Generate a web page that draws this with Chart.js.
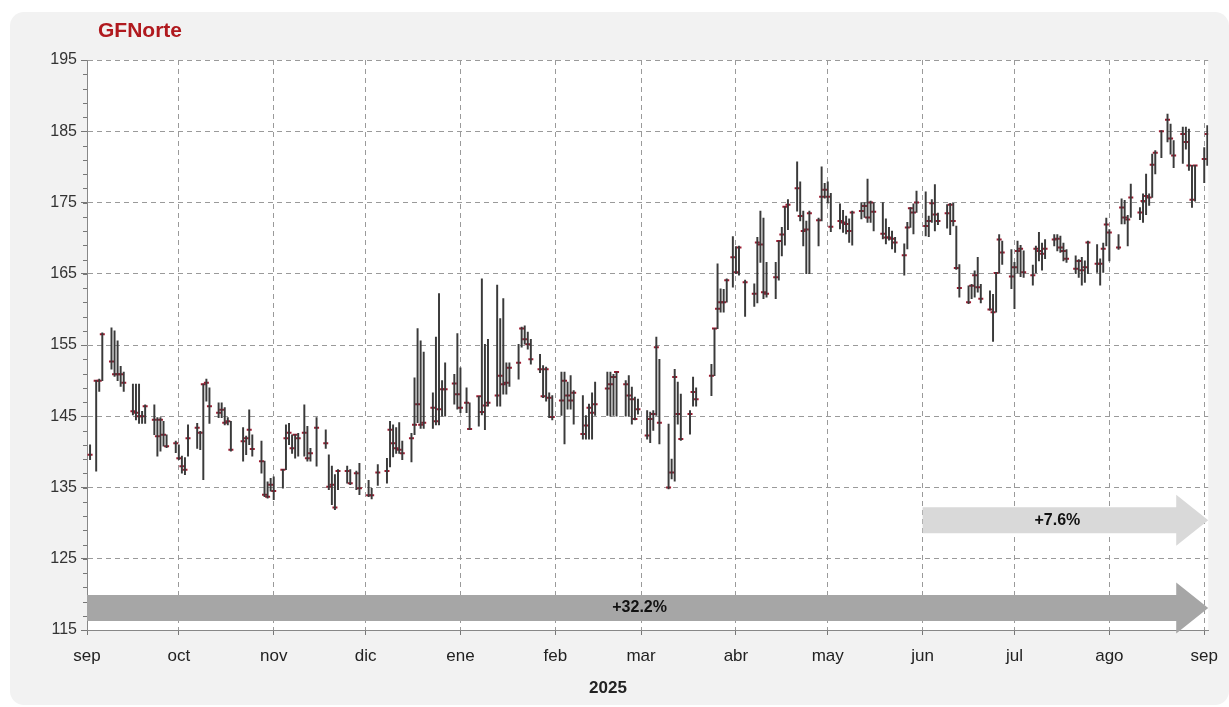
<!DOCTYPE html>
<html>
<head>
<meta charset="utf-8">
<script src="https://cdn.jsdelivr.net/npm/chart.js@4/dist/chart.umd.min.js"></script>
<style>
  html, body { margin: 0; padding: 0; background: #fff; overflow: hidden; }
  #panel { position: absolute; left: 10px; top: 12px; width: 1219px; height: 693px; background: #f2f2f2; border-radius: 14px; }
  #chart { position: absolute; left: 0; top: 0; display: block; }
</style>
</head>
<body>
<div id="panel"></div>
<canvas id="chart" width="1229" height="707"></canvas>
<script>
// GFNorte daily high / low / close, Sep 2024 - Sep 2025
// x = days since 1 Sep 2024
const days = [
  1,3,4,5,8,9,10,11,12,15,16,17,18,19,22,23,24,25,26,29,
  30,31,32,33,36,37,38,39,40,43,44,45,46,47,51,52,53,54,57,58,59,60,
  61,64,65,66,67,68,69,71,72,73,75,78,79,80,81,82,85,86,88,89,
  92,93,95,98,99,100,101,102,103,106,107,108,109,110,113,114,115,116,117,120,121,
  122,124,125,128,129,130,131,134,135,136,137,138,141,142,143,144,145,148,149,150,151,152,
  155,156,157,158,159,162,163,164,165,166,170,171,172,173,176,177,178,179,180,
  183,184,185,186,187,190,191,192,193,194,197,198,199,204,205,206,207,208,209,211,
  212,213,215,218,219,220,221,222,225,226,227,228,229,232,233,234,235,236,239,240,241,
  242,243,246,247,248,249,250,253,254,255,256,257,260,261,262,263,264,267,268,269,270,271,
  274,275,276,277,278,281,282,283,284,285,288,289,290,291,292,295,296,297,298,299,302,
  303,304,305,306,309,310,311,312,313,316,317,318,319,320,323,324,325,326,327,330,331,332,333,
  334,337,338,339,340,341,344,345,346,347,348,349,351,353,354,355,358,359,360,361,362,365,366
];
const highs = [
  141.0,150.0,150.2,156.7,157.4,157.0,155.6,152.0,151.2,149.5,149.5,149.5,145.7,146.6,146.6,144.8,144.8,144.3,142.4,141.5,
  141.0,139.4,139.2,143.8,144.0,142.9,149.5,150.2,149.0,146.9,146.9,146.2,144.8,144.3,143.4,142.2,145.9,142.4,141.5,138.7,135.8,136.3,
  136.5,137.5,143.8,144.0,142.4,142.4,142.6,146.6,143.6,140.5,144.8,143.1,139.6,138.0,136.8,137.5,138.0,137.5,137.3,138.4,
  136.0,134.9,138.2,139.1,144.3,143.8,143.4,144.1,141.5,142.6,150.4,157.3,155.6,154.0,148.3,156.1,162.2,150.0,152.5,150.9,156.6,
  151.8,149.0,146.9,147.8,164.3,155.1,155.8,163.4,158.7,161.5,152.5,152.5,155.1,157.5,157.7,156.8,155.8,153.7,152.1,151.9,148.3,147.9,
  151.2,151.2,149.8,150.7,148.6,147.9,145.1,146.7,148.3,149.8,151.2,151.2,150.9,151.2,150.0,150.7,149.1,147.7,147.4,
  145.8,145.6,145.8,156.1,153.0,143.9,139.0,151.6,149.8,148.1,145.8,150.5,149.0,152.3,157.3,166.4,162.9,162.8,164.3,170.2,
  168.8,168.9,164.1,163.6,170.1,173.8,172.8,166.6,166.6,169.6,171.5,174.4,175.4,180.7,177.9,173.8,172.4,173.8,172.8,180.0,177.7,
  177.9,176.3,174.8,173.9,173.1,172.7,173.8,175.0,175.0,178.3,175.2,175.0,175.0,172.7,171.5,171.0,170.1,169.2,172.2,174.3,174.8,176.6,
  176.5,173.1,175.4,177.5,173.5,174.7,174.9,174.9,171.7,166.3,163.3,163.5,165.4,167.3,163.5,162.6,162.1,165.2,170.5,169.6,168.4,
  166.6,169.6,169.0,168.2,166.2,168.9,170.8,169.3,169.8,170.5,170.5,170.3,169.3,168.4,167.5,167.0,167.3,166.8,169.6,169.1,167.1,169.3,172.8,
  171.2,170.5,175.5,175.3,173.2,177.6,174.3,176.2,179.0,176.2,181.8,182.3,185.1,187.4,186.0,183.7,185.6,185.6,185.3,180.2,180.2,182.7,185.8
];
const lows = [
  138.9,137.3,148.5,150.0,151.6,150.6,150.0,149.2,148.5,145.2,144.5,144.0,144.0,144.0,142.4,139.4,140.1,140.8,140.6,139.9,
  138.9,137.0,136.8,139.4,140.5,140.3,136.1,147.1,144.0,144.8,144.8,143.8,143.8,140.1,138.7,139.6,141.0,139.4,137.0,133.7,133.5,134.5,
  133.3,134.9,137.5,141.0,139.8,139.1,139.4,139.4,138.7,138.7,138.0,140.5,134.7,132.6,131.9,134.7,135.6,135.4,134.7,134.0,
  133.7,133.4,135.3,135.6,137.9,139.3,139.8,139.8,138.9,138.6,142.4,144.1,143.3,143.3,143.3,143.8,143.8,145.0,145.0,146.7,146.0,
  145.5,145.5,143.1,143.6,145.2,143.1,146.4,146.4,146.4,148.1,148.1,149.2,150.2,154.7,155.1,154.4,152.3,151.1,147.6,147.1,144.8,144.5,
  145.1,141.1,146.0,146.0,143.9,141.8,141.8,141.8,141.8,145.1,145.1,145.0,145.1,145.0,145.0,145.0,143.9,144.5,145.3,
  141.8,141.3,143.0,145.1,141.1,134.8,136.2,135.9,143.9,141.6,142.5,146.4,146.4,147.9,150.7,157.3,159.6,159.6,161.0,163.1,
  165.0,164.8,159.0,160.4,160.9,166.6,161.5,161.7,161.5,164.1,167.5,169.0,171.2,173.8,172.4,168.9,165.0,165.0,168.9,172.4,175.6,
  174.9,170.9,171.3,170.8,170.6,169.4,169.0,172.7,172.9,172.2,172.2,171.0,169.9,169.2,169.7,168.5,168.0,164.8,168.5,171.5,170.6,173.6,
  170.3,170.2,172.2,171.0,171.9,171.4,170.5,171.7,165.6,161.7,160.8,161.5,161.7,162.4,160.9,159.9,155.5,159.6,165.1,166.3,162.9,
  160.1,165.1,164.6,164.5,163.4,165.1,166.8,165.5,167.1,168.9,168.2,168.0,166.8,166.6,165.0,164.5,163.4,163.8,165.0,165.2,163.4,165.2,168.9,
  166.8,168.4,172.0,172.0,168.9,172.9,172.6,172.2,173.3,174.6,175.7,179.0,181.3,183.5,181.8,179.9,180.5,182.5,179.5,174.3,175.2,177.8,180.2
];
const closes = [
  139.6,150.0,150.0,156.5,152.7,150.9,150.9,150.9,149.7,145.7,145.5,145.0,145.0,146.4,144.5,142.2,144.5,142.4,140.8,141.2,
  139.1,138.0,137.5,141.9,143.4,142.7,149.5,149.7,146.4,145.5,145.9,144.1,144.3,140.3,141.5,141.9,143.1,140.4,138.7,134.0,133.7,135.4,
  134.5,137.5,141.9,142.7,140.5,142.4,141.9,142.7,139.1,139.8,143.4,141.2,135.1,135.4,132.2,137.3,137.3,135.6,137.0,134.9,
  133.9,133.9,137.1,137.3,143.1,141.2,140.5,140.3,139.8,141.9,143.8,146.7,143.8,144.1,146.2,144.3,146.0,148.8,148.8,149.6,148.1,
  146.2,146.9,143.2,147.8,145.6,146.5,146.9,147.9,150.7,149.5,149.7,151.8,152.5,157.3,155.8,155.1,153.0,151.6,147.8,151.6,147.6,144.9,
  147.2,150.0,147.9,147.2,148.3,142.5,143.7,146.2,145.5,146.7,148.9,149.5,150.5,151.2,149.5,147.9,147.4,144.6,146.0,
  142.3,144.6,145.3,154.7,144.1,135.0,137.1,150.5,145.3,141.8,145.3,148.4,147.4,150.7,157.3,160.1,161.0,161.0,164.1,167.3,
  165.2,168.7,163.8,162.2,169.4,169.1,162.4,162.2,164.5,169.6,170.5,174.4,174.7,177.0,173.1,171.0,171.2,173.5,172.5,175.8,176.8,
  175.8,171.6,172.4,172.2,172.0,171.0,173.6,173.8,174.5,172.9,175.0,173.7,170.6,170.1,170.1,169.9,169.4,167.6,171.5,174.2,173.6,175.0,
  171.7,172.4,174.9,173.3,172.4,173.5,174.7,172.4,165.8,163.0,161.0,163.3,164.8,163.1,161.5,160.0,159.6,165.1,169.8,168.0,164.6,
  165.9,168.2,168.5,165.2,164.8,168.5,168.2,167.8,168.5,169.8,169.9,168.7,168.2,167.1,165.7,166.8,165.5,165.9,169.4,166.4,166.4,168.5,171.9,
  170.8,168.7,174.3,172.9,172.6,175.7,173.6,175.2,175.9,175.7,180.3,182.0,185.0,186.6,184.0,181.6,184.6,183.5,180.2,175.4,180.2,181.1,184.6
];

// month ticks (days since 1 Sep 2024) and labels
const monthDays = [0, 30, 61, 91, 122, 153, 181, 212, 242, 273, 303, 334, 365];
const monthLabels = ['sep', 'oct', 'nov', 'dic', 'ene', 'feb', 'mar', 'abr', 'may', 'jun', 'jul', 'ago', 'sep'];

// performance arrows: start day and label
const perfStart = [0, 273];
const perfLabel = ['+32.2%', '+7.6%'];

const FONT = "'Liberation Sans', Arial, sans-serif";

function drawArrow(ctx, x0, x1, yc, bodyH, headH, headL, color){
  ctx.beginPath();
  ctx.moveTo(x0, yc - bodyH);
  ctx.lineTo(x1 - headL, yc - bodyH);
  ctx.lineTo(x1 - headL, yc - headH);
  ctx.lineTo(x1, yc);
  ctx.lineTo(x1 - headL, yc + headH);
  ctx.lineTo(x1 - headL, yc + bodyH);
  ctx.lineTo(x0, yc + bodyH);
  ctx.closePath();
  ctx.fillStyle = color;
  ctx.fill();
}

const decor = {
  id: 'decor',
  beforeDraw(chart){
    const {ctx, chartArea: a} = chart;
    ctx.save();
    ctx.fillStyle = '#fff';
    ctx.fillRect(a.left, a.top, a.right - a.left, a.bottom - a.top);
    ctx.restore();
  },
  beforeDatasetsDraw(chart){
    const {ctx, chartArea: a, scales: {x, y}} = chart;
    const levels = [118.1, 130.4];
    const colors = ['#a6a6a6', '#d9d9d9'];
    ctx.save();
    perfStart.forEach((d, i) => {
      const x0 = x.getPixelForValue(d);
      const x1 = a.right;
      const yc = y.getPixelForValue(levels[i]);
      drawArrow(ctx, x0, x1, yc, 13, 25.5, 32, colors[i]);
      ctx.fillStyle = '#111';
      ctx.font = 'bold 16px ' + FONT;
      ctx.textAlign = 'center';
      ctx.textBaseline = 'middle';
      ctx.fillText(perfLabel[i], (x0 + x1 - 16) / 2, yc);
    });
    ctx.restore();
  },
  afterDraw(chart){
    const {ctx, chartArea: a, scales: {y}} = chart;
    ctx.save();
    // minor ticks on value axis
    ctx.strokeStyle = '#777';
    ctx.lineWidth = 1;
    for(let v = 115; v <= 195; v += 2){
      const py = Math.round(y.getPixelForValue(v)) + 0.5;
      ctx.beginPath();
      ctx.moveTo(a.left - 4, py);
      ctx.lineTo(a.left, py);
      ctx.stroke();
    }
    ctx.fillStyle = '#b0191e';
    ctx.font = 'bold 21px ' + FONT;
    ctx.textAlign = 'left';
    ctx.textBaseline = 'middle';
    ctx.fillText('GFNorte', 98, 31);
    ctx.fillStyle = '#222';
    ctx.font = 'bold 17px ' + FONT;
    ctx.textAlign = 'center';
    ctx.fillText('2025', 608, 688);
    ctx.restore();
  }
};

new Chart(document.getElementById('chart'), {
  type: 'bar',
  data: {
    datasets: [
      {
        type: 'bar',
        data: days.map((d, i) => ({x: d, y: [lows[i], highs[i]]})),
        backgroundColor: '#3a3a3a',
        borderWidth: 0,
        barThickness: 1.3
      },
      {
        type: 'scatter',
        data: days.map((d, i) => ({x: d, y: closes[i]})),
        pointStyle: 'line',
        pointRadius: 2.5,
        pointBorderWidth: 2,
        pointBorderColor: '#9b1b30',
        pointBackgroundColor: '#9b1b30',
        showLine: false
      }
    ]
  },
  options: {
    responsive: false,
    animation: false,
    devicePixelRatio: 1,
    layout: {padding: {left: 0, top: 60, right: 15, bottom: 0}},
    plugins: {legend: {display: false}, tooltip: {enabled: false}, title: {display: false}},
    scales: {
      x: {
        type: 'linear',
        min: 0,
        max: 366.3,
        offset: false,
        afterBuildTicks: s => { s.ticks = monthDays.map(v => ({value: v})); },
        afterFit: s => { s.height = 77; },
        ticks: {
          autoSkip: false, maxRotation: 0, padding: 11,
          callback: (v, i) => monthLabels[i],
          color: '#222', font: {family: FONT, size: 17}
        },
        grid: {offset: false, color: '#9a9a9a', tickLength: 5, tickColor: '#777'},
        border: {color: '#888', dash: [5, 4]}
      },
      y: {
        min: 115,
        max: 195,
        afterFit: s => { s.width = 87; },
        ticks: {stepSize: 10, padding: 4, color: '#333', font: {family: FONT, size: 16}},
        grid: {color: '#9a9a9a', tickLength: 6, tickColor: '#777'},
        border: {color: '#888', dash: [5, 4]}
      }
    }
  },
  plugins: [decor]
});
</script>
</body>
</html>
